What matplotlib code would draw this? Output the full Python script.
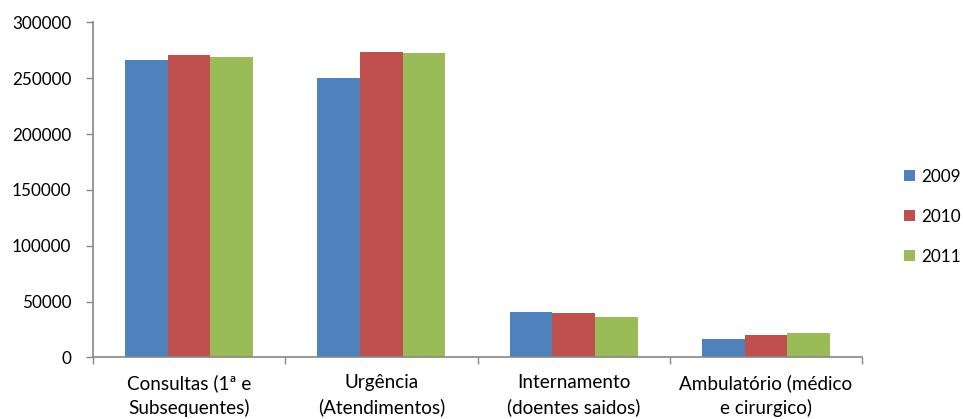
import numpy as np
import matplotlib.pyplot as plt
from matplotlib.patches import Patch

# ====== DATA ======
categorias = ["Consultas (1ª e\nSubsequentes)", "Urgência\n(Atendimentos)",
              "Internamento\n(doentes saidos)", "Ambulatório (médico\ne cirurgico)"]
anos = ["2009", "2010", "2011"]
v2009 = [266000, 250000, 40300, 16700]
v2010 = [270700, 274000, 39400, 19700]
v2011 = [269500, 272500, 35800, 22100]
cores = ["#4F81BD", "#C0504D", "#9BBB59"]

plt.rcParams["font.family"] = ["Lato", "DejaVu Sans"]
FS = 12.3

fig = plt.figure(figsize=(9.63, 4.19), dpi=100)
ax = fig.add_axes([93 / 963, 1 - 357.3 / 419, (862 - 93) / 963, (357.3 - 22.5) / 419])

x = np.arange(len(categorias))
w = 1 / 4.5
for i, (vals, cor) in enumerate(zip([v2009, v2010, v2011], cores)):
    ax.bar(x + (i - 1) * w, vals, width=w, color=cor, edgecolor="none")

ax.set_xlim(-0.5, len(categorias) - 0.5)
ax.set_ylim(0, 300000)
ax.set_yticks(np.arange(0, 300001, 50000))
ax.set_yticklabels([str(v) for v in range(0, 300001, 50000)], fontsize=FS)

# ticks do eixo x nas fronteiras das categorias
ax.set_xticks(np.arange(-0.5, len(categorias), 1.0))
ax.set_xticklabels([])
ax.set_xticks(x, minor=True)
ax.set_xticklabels(categorias, minor=True, fontsize=13.6, linespacing=1.5)
ax.tick_params(axis="x", which="minor", length=0, pad=12)
ax.tick_params(axis="x", which="major", length=5, color="#868686", width=1)
ax.tick_params(axis="y", length=5, color="#868686", width=1, pad=10.5)

for s in ["top", "right"]:
    ax.spines[s].set_visible(False)
for s in ["left", "bottom"]:
    ax.spines[s].set_color("#868686")
    ax.spines[s].set_linewidth(1.2)

handles = [Patch(facecolor=c, edgecolor="none") for c in cores]
fig.legend(handles, anos, loc="center left", bbox_to_anchor=(895 / 963, 1 - 216.7 / 419),
           frameon=False, fontsize=FS, handlelength=0.65, handleheight=0.65,
           handletextpad=0.4, labelspacing=1.4, borderpad=0)

fig.savefig("out.png", dpi=100)
